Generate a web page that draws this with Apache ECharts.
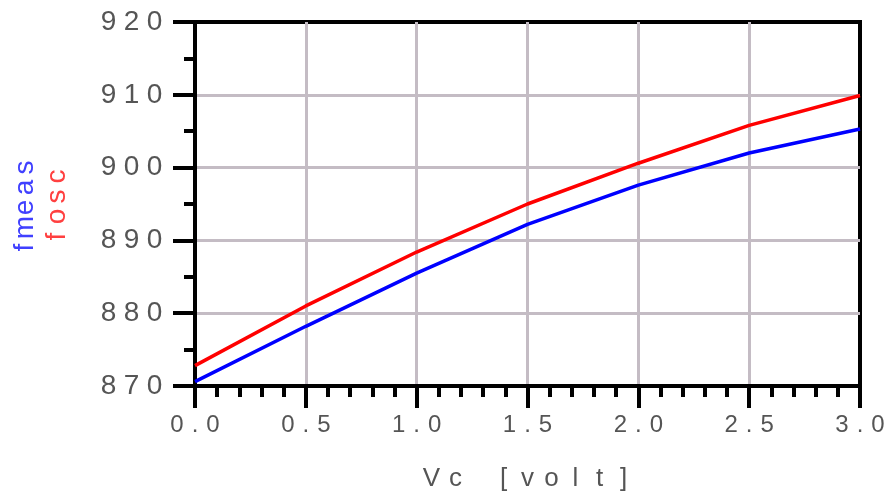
<!DOCTYPE html>
<html>
<head>
<meta charset="utf-8">
<script src="https://cdn.jsdelivr.net/npm/echarts@6/dist/echarts.min.js"></script>
<style>
  html, body { margin: 0; padding: 0; background: #fff; }
  #chart { width: 890px; height: 499px; }
</style>
</head>
<body>
<div id="chart"></div>
<script>
// ---- data ----
var vc = [0, 0.5, 1.0, 1.5, 2.0, 2.5, 3.0];
var fosc = [872.8, 881.0, 888.4, 895.0, 900.6, 905.8, 909.9];
var fmeas = [870.6, 878.2, 885.5, 892.2, 897.6, 902.0, 905.3];
var xTitle = 'Vc [volt]';
var yTitleMeas = 'fmeas';
var yTitleOsc = 'fosc';

function pairs(xs, ys) { return xs.map(function (x, i) { return [x, ys[i]]; }); }
function spaced(str, cls) {
  return str.split('').map(function (ch) {
    return '{' + cls + '|' + (ch === ' ' ? '\u00a0' : ch) + '}';
  }).join('');
}

var FONT = 'Liberation Sans';
var GRIDC = '#c4bcc4';
var TXT = '#555';

var chart = echarts.init(document.getElementById('chart'), null, { renderer: 'canvas' });
chart.setOption({
  animation: false,
  backgroundColor: '#fff',
  grid: { left: 195, right: 27, top: 22, bottom: 113, show: true, borderColor: '#000', borderWidth: 4 },
  xAxis: {
    type: 'value', min: 0, max: 3, interval: 0.5,
    axisLine: { show: true, lineStyle: { color: '#000', width: 4 } },
    axisTick: { show: true, inside: false, length: 22, lineStyle: { color: '#000', width: 4 } },
    minorTick: { show: true, splitNumber: 5, length: 11, lineStyle: { color: '#000', width: 4 } },
    splitLine: { show: true, showMinLine: false, showMaxLine: false, lineStyle: { color: GRIDC, width: 3 } },
    axisLabel: {
      margin: 27,
      formatter: function (v) { return spaced(v.toFixed(1), 'a'); },
      rich: { a: { width: 18, align: 'center', fontSize: 24, lineHeight: 24, fontFamily: FONT, color: TXT } }
    },
    name: spaced(xTitle, 'n'),
    nameLocation: 'middle',
    nameGap: 79,
    nameTextStyle: {
      rich: { n: { width: 24, align: 'center', fontSize: 26, lineHeight: 28, fontFamily: FONT, color: TXT } }
    }
  },
  yAxis: {
    type: 'value', min: 870, max: 920, interval: 10,
    axisLine: { show: true, lineStyle: { color: '#000', width: 4 } },
    axisTick: { show: true, inside: false, length: 22, lineStyle: { color: '#000', width: 4 } },
    minorTick: { show: true, splitNumber: 2, length: 11, lineStyle: { color: '#000', width: 4 } },
    splitLine: { show: true, showMinLine: false, showMaxLine: false, lineStyle: { color: GRIDC, width: 3 } },
    axisLabel: {
      margin: 29,
      formatter: function (v) { return spaced(String(v), 'a'); },
      rich: { a: { width: 23, align: 'center', fontSize: 28, lineHeight: 28, fontFamily: FONT, color: TXT } }
    }
  },
  graphic: [
    {
      type: 'text', x: 25, y: 207.5, rotation: Math.PI / 2,
      style: {
        text: spaced(yTitleMeas, 'm'), align: 'center', verticalAlign: 'middle',
        rich: { m: { width: 20, align: 'center', fontSize: 28, lineHeight: 28, fontFamily: FONT, fill: '#4040ff', color: '#4040ff' } }
      }
    },
    {
      type: 'text', x: 57, y: 206.5, rotation: Math.PI / 2,
      style: {
        text: spaced(yTitleOsc, 'o'), align: 'center', verticalAlign: 'middle',
        rich: { o: { width: 20, align: 'center', fontSize: 28, lineHeight: 28, fontFamily: FONT, fill: '#ff4040', color: '#ff4040' } }
      }
    }
  ],
  series: [
    {
      name: 'fmeas', type: 'line', data: pairs(vc, fmeas), showSymbol: false,
      lineStyle: { color: '#0000ff', width: 3.5 }, itemStyle: { color: '#0000ff' }
    },
    {
      name: 'fosc', type: 'line', data: pairs(vc, fosc), showSymbol: false,
      lineStyle: { color: '#ff0000', width: 3.5 }, itemStyle: { color: '#ff0000' }
    }
  ]
});
</script>
</body>
</html>
